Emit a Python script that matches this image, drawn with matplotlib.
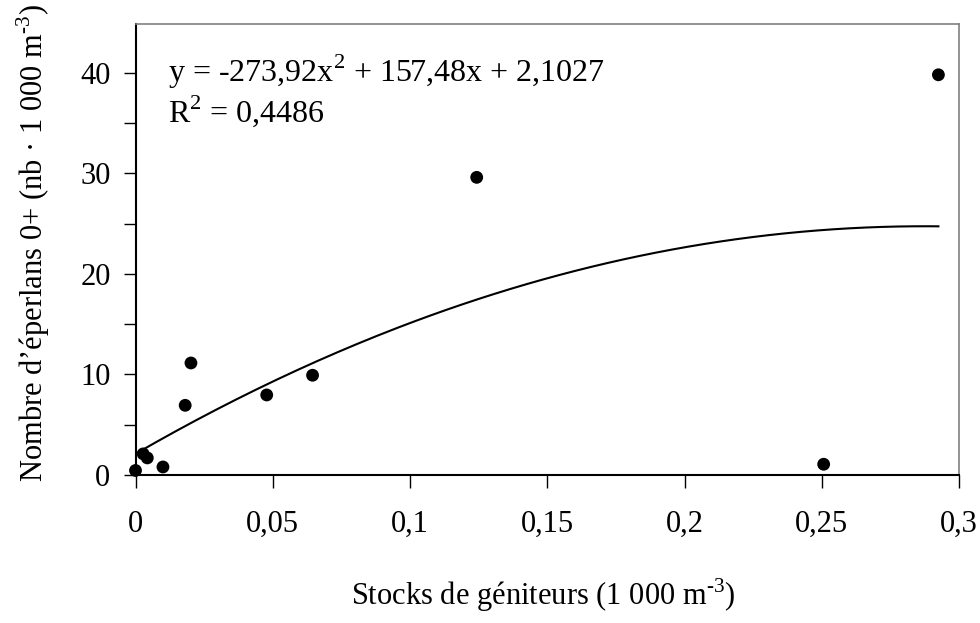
import matplotlib
matplotlib.use("Agg")
import matplotlib.pyplot as plt
import numpy as np

plt.rcParams.update({"font.family": ["Liberation Serif", "DejaVu Serif"],
                     "mathtext.fontset": "custom",
                     "mathtext.rm": "Liberation Serif",
                     "font.size": 22})

# spawners stock (1 000 m-3) vs 0+ smelt abundance
stock = [0.0, 0.0028, 0.0043, 0.0100, 0.0181, 0.0202, 0.0478, 0.0645,
         0.1243, 0.2507, 0.2925]
smelt = [0.45, 2.1, 1.7, 0.8, 6.93, 11.14, 7.96, 9.92, 29.6, 1.07, 39.8]

# quadratic trendline as printed on the chart
coef = [-273.92, 157.48, 2.1027]
eq_text = "y = -273,92x$^{2}$ + 157,48x + 2,1027"
r2_text = "R$^{2}$ = 0,4486"

xticks = [0, 0.05, 0.1, 0.15, 0.2, 0.25, 0.3]
xtick_labels = ["0", "0,05", "0,1", "0,15", "0,2", "0,25", "0,3"]
yticks = [0, 5, 10, 15, 20, 25, 30, 35, 40]
ytick_labels = ["0", "", "10", "", "20", "", "30", "", "40"]

fig = plt.figure(figsize=(9.8, 6.23), dpi=100)
ax = fig.add_axes([135.5 / 980, 1 - 475 / 623, (959 - 135.5) / 980, (475 - 24) / 623])

xs = np.linspace(min(stock), max(stock), 200)
ax.plot(xs, np.polyval(coef, xs), color="black", lw=1.5)
ax.scatter(stock, smelt, s=85, color="black", zorder=3, clip_on=False,
           edgecolors="none")

ax.set_xlim(0, 0.3)
ax.set_ylim(0, 44.85)
ax.set_xticks(xticks)
ax.set_xticklabels(xtick_labels)
ax.set_yticks(yticks)
ax.set_yticklabels(ytick_labels)
ax.tick_params(direction="out", length=9, width=1)
ax.tick_params(axis="x", pad=16)
ax.tick_params(axis="y", pad=9)

for side in ("left", "bottom"):
    ax.spines[side].set_color("black")
    ax.spines[side].set_linewidth(1.5)
for side in ("top", "right"):
    ax.spines[side].set_color("#808080")
    ax.spines[side].set_linewidth(1.2)

ax.text(0.04, 0.871, eq_text, transform=ax.transAxes, fontsize=23,
        va="baseline")
ax.text(0.04, 0.783, r2_text, transform=ax.transAxes, fontsize=23,
        va="baseline")

fig.text(543 / 980, 1 - 595 / 623,
         r"Stocks de géniteurs (1 000 m$^{\text{-}3}$)",
         ha="center", va="center", fontsize=22)
fig.text(33 / 980, 1 - 243 / 623,
         r"Nombre d’éperlans 0+ (nb · 1 000 m$^{\text{-}3}$)",
         ha="center", va="center", rotation=90, fontsize=22)

fig.savefig("out.png", dpi=100)
